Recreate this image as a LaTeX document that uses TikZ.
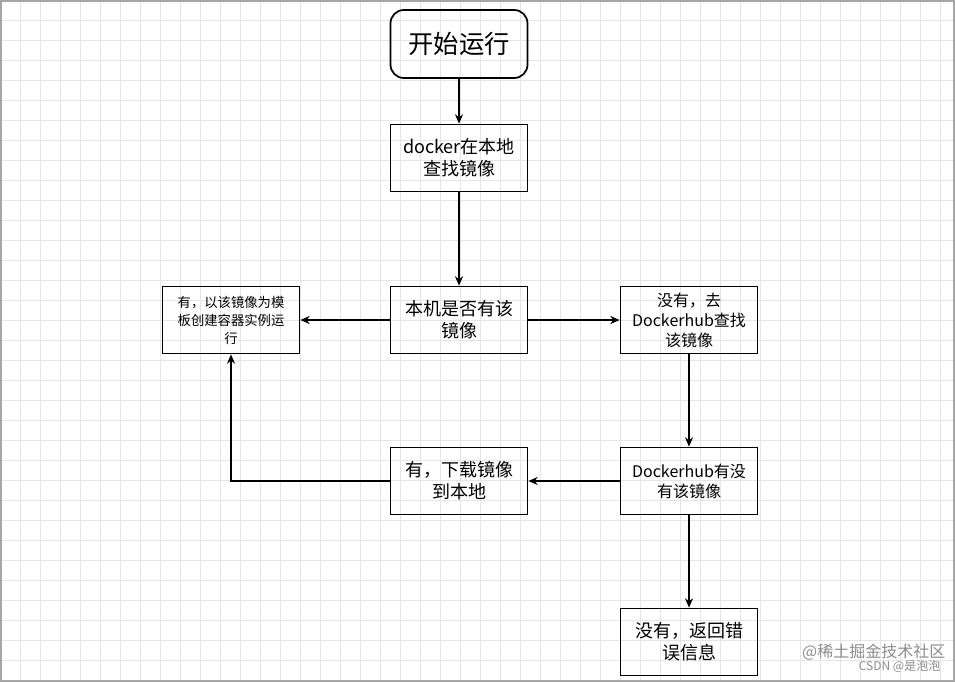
\documentclass[tikz,border=0pt]{standalone}
\usepackage{fontspec}
\setmainfont{Noto Sans CJK SC}
\usetikzlibrary{arrows.meta}
\begin{document}
\begin{tikzpicture}[x=0.75pt,y=-0.75pt,
  box/.style={draw,line width=1.3pt,minimum width=137*0.75pt,minimum height=67*0.75pt,align=center,font=\fontsize{13.5}{16.5}\selectfont,inner sep=1pt},
  arr/.style={-{Stealth[length=7pt,width=6pt]},line width=1.3pt}]
\useasboundingbox (0,0) rectangle (955,682);
\fill[white] (0,0) rectangle (955,682);
\foreach \x in {0,20,...,940} \draw[black!10,line width=0.4pt] (\x,0) -- (\x,682);
\foreach \y in {0,20,...,680} \draw[black!10,line width=0.4pt] (0,\y) -- (955,\y);
\draw[black!35,line width=0.8pt] (1,1) rectangle (954,681);
\node[box,rounded corners=10pt,minimum height=68*0.75pt,font=\fontsize{19}{22}\selectfont] (start) at (459,44) {开始运行};
\node[box] (local) at (459,158) {docker在本地\\查找镜像};
\node[box] (q) at (459,320) {本机是否有该\\镜像};
\node[box,font=\fontsize{10}{13.5}\selectfont] (run) at (231,320) {有，以该镜像为模\\板创建容器实例运\\行};
\node[box,font=\fontsize{12}{15}\selectfont] (hub) at (689,320) {没有，去\\Dockerhub查找\\该镜像};
\node[box,font=\fontsize{12}{15}\selectfont] (hq) at (689,481) {Dockerhub有没\\有该镜像};
\node[box] (dl) at (459,481) {有，下载镜像\\到本地};
\node[box] (err) at (689,642) {没有，返回错\\误信息};
\draw[arr] (start) -- (local);
\draw[arr] (local) -- (q);
\draw[arr] (q) -- (run);
\draw[arr] (q) -- (hub);
\draw[arr] (hub) -- (hq);
\draw[arr] (hq) -- (dl);
\draw[arr] (hq) -- (err);
\draw[arr] (dl.west) -- (231,481) -- (run.south);
\node[text=black!45,font=\fontsize{12}{14}\selectfont,anchor=east] (wm1) at (950,652) {@稀土掘金技术社区};
\node[text=black!45,font=\fontsize{9}{11}\selectfont,anchor=east] (wm2) at (945,666) {CSDN @是泡泡};
\end{tikzpicture}
\end{document}
